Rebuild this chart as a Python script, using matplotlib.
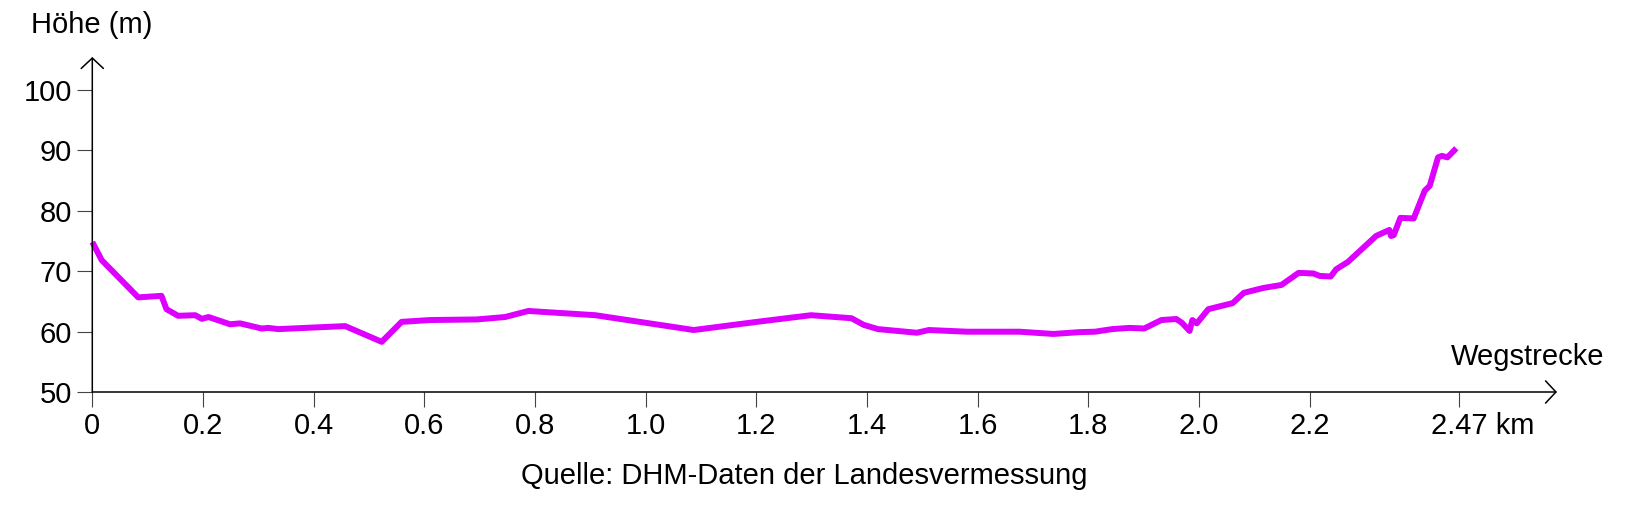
import matplotlib
matplotlib.use("Agg")
import matplotlib.pyplot as plt
import matplotlib.transforms as mtransforms

# Höhenprofil
dist_km = [0.000, 0.017, 0.083, 0.125, 0.134, 0.155, 0.186, 0.198, 0.210, 0.249,
           0.267, 0.306, 0.318, 0.336, 0.457, 0.523, 0.559, 0.610, 0.695, 0.746,
           0.788, 0.909, 1.087, 1.201, 1.299, 1.372, 1.394, 1.420, 1.490, 1.512,
           1.581, 1.676, 1.737, 1.784, 1.812, 1.843, 1.874, 1.901, 1.932, 1.959,
           1.969, 1.983, 1.988, 1.996, 2.017, 2.061, 2.081, 2.116, 2.149, 2.180,
           2.207, 2.218, 2.238, 2.248, 2.269, 2.320, 2.344, 2.347, 2.352, 2.364,
           2.388, 2.408, 2.417, 2.432, 2.439, 2.449, 2.465]
hoehe_m = [74.8, 71.8, 65.65, 65.9, 63.7, 62.6, 62.7, 62.1, 62.4, 61.2,
           61.35, 60.5, 60.6, 60.4, 60.9, 58.3, 61.6, 61.9, 62.0, 62.4,
           63.4, 62.7, 60.25, 61.6, 62.7, 62.2, 61.1, 60.4, 59.8, 60.25,
           59.97, 59.97, 59.6, 59.9, 59.97, 60.4, 60.6, 60.5, 61.9, 62.07,
           61.45, 60.1, 61.9, 61.35, 63.7, 64.7, 66.4, 67.2, 67.7, 69.7,
           69.6, 69.2, 69.1, 70.3, 71.5, 75.8, 76.8, 75.8, 75.95, 78.8,
           78.7, 83.3, 84.1, 88.8, 89.05, 88.8, 90.3]

x_ticks = [0, 0.2, 0.4, 0.6, 0.8, 1.0, 1.2, 1.4, 1.6, 1.8, 2.0, 2.2, 2.47]
x_labels = ["0", "0.2", "0.4", "0.6", "0.8", "1.0", "1.2", "1.4", "1.6", "1.8",
            "2.0", "2.2", "2.47 km"]
y_ticks = [50, 60, 70, 80, 90, 100]

plt.rcParams["font.family"] = ["Liberation Sans", "DejaVu Sans"]
FS = 21

W, H = 1641, 530
fig = plt.figure(figsize=(W / 100, H / 100), dpi=100)
ax = fig.add_axes([92.3 / W, 1 - 392 / H, (1557 - 92.3) / W, (392 - 57) / H])

ax.plot(dist_km, hoehe_m, color="#DD00FF", lw=4.3, solid_joinstyle="round",
        solid_capstyle="butt", clip_on=False, zorder=3)

ax.set_xlim(0, 2.647)
ax.set_ylim(50, 105.4)
for s in ax.spines.values():
    s.set_visible(False)

ax.set_xticks(x_ticks)
ax.set_xticklabels(x_labels)
ax.set_yticks(y_ticks)
ax.tick_params(direction="out", length=10.5, width=0.8, color="#444444",
               labelsize=FS, pad=4)

# letzte Beschriftung "2.47 km": Zahl unter dem Tick zentriert
last = ax.get_xticklabels()[-1]
last.set_horizontalalignment("left")
last.set_transform(last.get_transform() +
                   mtransforms.ScaledTranslation(-0.28, 0, fig.dpi_scale_trans))

# Achsen mit Pfeilspitzen
arrow = dict(arrowstyle="->,head_length=0.75,head_width=0.8", lw=1.1,
             color="black", shrinkA=0, shrinkB=0, mutation_scale=10)
ax.annotate("", xy=(1, 0), xytext=(0, 0), xycoords="axes fraction",
            arrowprops=arrow, annotation_clip=False)
ax.annotate("", xy=(0, 1), xytext=(0, 0), xycoords="axes fraction",
            arrowprops=arrow, annotation_clip=False)

fig.text(31 / W, 1 - 33 / H, "Höhe (m)", fontsize=FS, va="baseline", ha="left")
fig.text(1604 / W, 1 - 365 / H, "Wegstrecke", fontsize=FS, va="baseline", ha="right")
fig.text(804 / W, 1 - 476 / H, "Quelle: DHM-Daten der Landesvermessung",
         fontsize=FS, va="center", ha="center")

fig.savefig("out.png", dpi=100, facecolor="white")
plt.close(fig)
